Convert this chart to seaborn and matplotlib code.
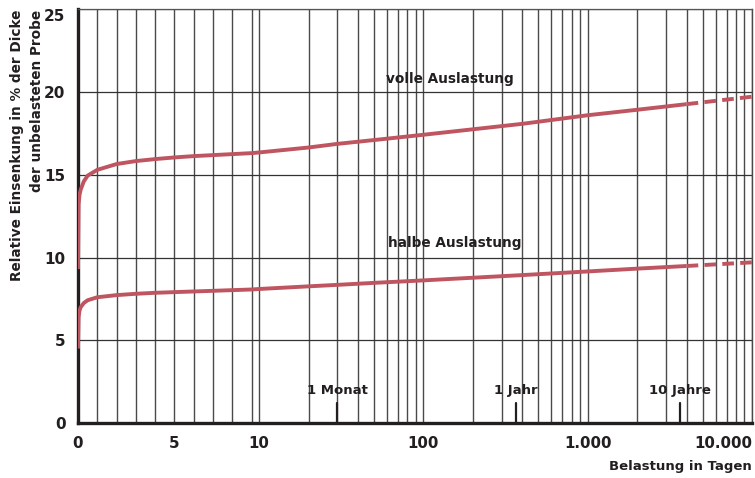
import numpy as np
import pandas as pd
import seaborn as sns
import matplotlib.pyplot as plt
from matplotlib.ticker import FixedLocator

# days under load
days = [0, 0.03, 0.08, 0.14, 0.3, 0.5, 1, 2, 3, 4, 5, 6, 7, 8, 9, 10,
        20, 30, 50, 100, 200, 400, 1000, 2000, 4000]
# relative settlement in % (full load / half load)
full_load = [9.3, 13.2, 13.8, 14.1, 14.6, 14.95, 15.3, 15.65, 15.83, 15.95, 16.05, 16.13, 16.19, 16.25,
             16.31, 16.35, 16.65, 16.87, 17.1, 17.42, 17.75, 18.08, 18.6, 18.93, 19.27]
half_load = [4.5, 6.4, 6.8, 7.0, 7.25, 7.42, 7.6, 7.73, 7.81, 7.87, 7.91, 7.95, 7.99, 8.03,
             8.07, 8.1, 8.26, 8.35, 8.47, 8.62, 8.78, 8.94, 9.16, 9.33, 9.49]
# extrapolated part (dashed)
days_ext = [4000, 10000]
full_ext = [19.27, 19.72]
half_ext = [9.49, 9.71]

milestone_days = [30, 365, 3650]
milestone_labels = ['1 Monat', '1 Jahr', '10 Jahre']

xtick_vals = [0, 5, 10, 100, 1000, 10000]
xtick_labels = ['0', '5', '10', '100', '1.000', '10.000']
grid_days = list(range(1, 10)) + list(range(10, 100, 10)) + list(range(100, 1000, 100)) \
    + list(range(1000, 10001, 1000))

# piecewise axis: linear 0..9 days, logarithmic above
A = 0.1174
def fwd(x):
    x = np.asarray(x, dtype=float)
    return np.where(x <= 9, x * A, 9 * A + np.log10(np.maximum(x, 9) / 9))

def inv(y):
    y = np.asarray(y, dtype=float)
    return np.where(y <= 9 * A, y / A, 9 * 10 ** np.minimum(y - 9 * A, 6))

sns.set_style('white')
plt.rcParams['font.family'] = ['DejaVu Sans']
red = '#bf5560'
ink = '#231f20'

fig = plt.figure(figsize=(7.55, 4.78), dpi=100)
ax = fig.add_axes([0.1033, 0.115, 0.8927, 0.8655])
ax.set_xscale('function', functions=(fwd, inv))

df = pd.DataFrame({'days': days, 'full': full_load, 'half': half_load})
dfe = pd.DataFrame({'days': days_ext, 'full': full_ext, 'half': half_ext})
for col in ['full', 'half']:
    sns.lineplot(data=df, x='days', y=col, ax=ax, color=red, lw=2.8,
                 solid_capstyle='butt', zorder=3)
    sns.lineplot(data=dfe, x='days', y=col, ax=ax, color=red, lw=2.8,
                 linestyle=(0, (3, 1.6)), zorder=3)

for d, lab in zip(milestone_days, milestone_labels):
    ax.plot([d, d], [0, 1.2], color=ink, lw=1.6, zorder=4)
    ax.text(d, 1.75, lab, ha='center', va='baseline', fontsize=9.5,
            fontweight='bold', color=ink)

ax.text(59, 20.8, 'volle Auslastung', ha='left', va='center', fontsize=9.8,
        fontweight='bold', color=ink)
ax.text(61, 10.9, 'halbe Auslastung', ha='left', va='center', fontsize=9.8,
        fontweight='bold', color=ink)

ax.set_xlim(0, 10000)
ax.set_ylim(0, 25)
ax.set_xticks(xtick_vals)
ax.set_xticklabels(xtick_labels)
ax.xaxis.set_minor_locator(FixedLocator(grid_days))
ax.set_yticks([0, 5, 10, 15, 20, 25])
ax.tick_params(axis='both', which='both', length=0)
ax.tick_params(axis='x', pad=9, labelsize=10.8, labelcolor=ink)
ax.tick_params(axis='y', pad=9, labelsize=11, labelcolor=ink)
for t in ax.get_xticklabels() + ax.get_yticklabels():
    t.set_fontweight('bold')
ax.get_xticklabels()[-1].set_ha('right')
ax.get_yticklabels()[-1].set_va('top')

ax.grid(axis='x', which='both', color='#4a4a4a', lw=1.0)
ax.grid(axis='y', which='major', color='#333333', lw=0.9)

for side in ['left', 'bottom']:
    ax.spines[side].set_color(ink)
    ax.spines[side].set_linewidth(2.4)
ax.spines['top'].set_color('#555555')
ax.spines['top'].set_linewidth(0.9)
ax.spines['right'].set_color('#4a4a4a')
ax.spines['right'].set_linewidth(1.0)
ax.set_xlabel('')
ax.set_ylabel('')

fig.text(0.0225, 0.979, 'Relative Einsenkung in % der Dicke', rotation=90,
         ha='center', va='top', fontsize=9.8, fontweight='bold', color=ink)
fig.text(0.0485, 0.979, 'der unbelasteten Probe', rotation=90,
         ha='center', va='top', fontsize=9.8, fontweight='bold', color=ink)
fig.text(0.996, 0.025, 'Belastung in Tagen', ha='right', va='center',
         fontsize=9.5, fontweight='bold', color=ink)

fig.savefig('out.png', dpi=100)
